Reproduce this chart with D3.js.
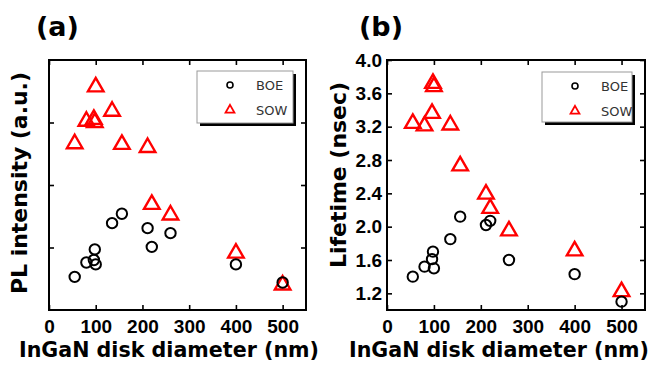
<!DOCTYPE html>
<html>
<head>
<meta charset="utf-8">
<script src="https://cdn.jsdelivr.net/npm/d3@7"></script>
<style>
  body { margin: 0; background: #fff; }
  svg { display: block; }
  .tick text { font-family: "Liberation Sans", Arial, sans-serif; font-weight: bold; font-size: 19px; fill: #000; }
  .tick line { stroke: #000; stroke-width: 1.6; }
  .domain { display: none; }
</style>
</head>
<body>
<svg id="chart" width="656" height="365"></svg>
<script>
// disk diameters (nm), shared by both panels
const diameters = [55, 80, 96, 98, 100, 135, 156, 211, 220, 260, 400, 500];

// (a) PL intensity, arbitrary units
const plBOE = [0.53, 0.76, 0.80, 0.97, 0.73, 1.39, 1.54, 1.31, 1.01, 1.23, 0.73, 0.44];
const plSOW = [2.66, 3.02, 3.05, 3.00, 3.57, 3.18, 2.65, 2.60, 1.69, 1.52, 0.91, 0.40];

// (b) lifetime, nsec
const lifeBOE = [1.40, 1.52, 1.61, 1.70, 1.50, 1.85, 2.12, 2.02, 2.07, 1.60, 1.43, 1.10];
const lifeSOW = [3.24, 3.21, 3.36, 3.72, 3.68, 3.22, 2.73, 2.39, 2.22, 1.95, 1.71, 1.22];

const xTicks = [0, 100, 200, 300, 400, 500];
const yTicksB = [1.2, 1.6, 2.0, 2.4, 2.8, 3.2, 3.6, 4.0];
const seriesNames = ["BOE", "SOW"];

const svg = d3.select("#chart");
const font = "DejaVu Sans, sans-serif";

function drawPanel(opt) {
  const g = svg.append("g");
  const x = d3.scaleLinear().domain([0, 550]).range([opt.left, opt.right]);
  const y = d3.scaleLinear().domain(opt.yDomain).range([opt.bottom, opt.top]);

  // axes, ticks point inward on all four sides
  g.append("g").attr("transform", `translate(0,${opt.bottom})`)
    .call(d3.axisBottom(x).tickValues(xTicks).tickSize(-5).tickPadding(10));
  g.append("g").attr("transform", `translate(0,${opt.top})`)
    .call(d3.axisTop(x).tickValues(xTicks).tickSize(-5).tickFormat(""));
  const yl = d3.axisLeft(y).tickValues(opt.yTicks).tickSize(-5).tickPadding(5);
  if (!opt.yLabels) yl.tickFormat("");
  else yl.tickFormat(d3.format(".1f"));
  g.append("g").attr("transform", `translate(${opt.left},0)`).call(yl);
  g.append("g").attr("transform", `translate(${opt.right},0)`)
    .call(d3.axisRight(y).tickValues(opt.yTicks).tickSize(-5).tickFormat(""));

  g.append("rect")
    .attr("x", opt.left).attr("y", opt.top)
    .attr("width", opt.right - opt.left).attr("height", opt.bottom - opt.top)
    .attr("fill", "none").attr("stroke", "#000").attr("stroke-width", 2);

  // data
  g.append("g").selectAll("path.sow").data(diameters)
    .join("path")
    .attr("transform", (d, i) => `translate(${x(d)},${y(opt.sow[i])})`)
    .attr("d", d3.symbol(d3.symbolTriangle, 105))
    .attr("fill", "none").attr("stroke", "#f00").attr("stroke-width", 2.4);
  g.append("g").selectAll("circle").data(diameters)
    .join("circle")
    .attr("cx", d => x(d)).attr("cy", (d, i) => y(opt.boe[i]))
    .attr("r", 5.2)
    .attr("fill", "none").attr("stroke", "#000").attr("stroke-width", 2);

  // legend with drop shadow
  const L = opt.legend;
  g.append("rect").attr("x", L.x + 3).attr("y", L.y + 3).attr("width", L.w).attr("height", L.h).attr("fill", "#000");
  g.append("rect").attr("x", L.x).attr("y", L.y).attr("width", L.w).attr("height", L.h)
    .attr("fill", "#fff").attr("stroke", "#999").attr("stroke-width", 1);
  g.append("circle").attr("cx", L.x + 33).attr("cy", L.y + 14).attr("r", 3)
    .attr("fill", "none").attr("stroke", "#000").attr("stroke-width", 1.6);
  g.append("path").attr("transform", `translate(${L.x + 33},${L.y + 39})`)
    .attr("d", d3.symbol(d3.symbolTriangle, 34))
    .attr("fill", "none").attr("stroke", "#f00").attr("stroke-width", 1.8);
  g.selectAll("text.leg").data(seriesNames).join("text")
    .attr("x", L.x + 59).attr("y", (d, i) => L.y + 19 + i * 25)
    .attr("font-family", font).attr("font-size", 13).attr("fill", "#333")
    .text(d => d);

  // titles
  g.append("text")
    .attr("x", opt.xTitleX).attr("y", 357)
    .attr("text-anchor", "middle")
    .attr("font-family", font).attr("font-weight", "bold").attr("font-size", 21)
    .attr("textLength", 300).attr("lengthAdjust", "spacingAndGlyphs")
    .text("InGaN disk diameter (nm)");
  g.append("text")
    .attr("transform", `translate(${opt.yTitle.x},${opt.yTitle.y}) rotate(-90)`)
    .attr("text-anchor", "middle")
    .attr("font-family", font).attr("font-weight", "bold").attr("font-size", 21)
    .attr("textLength", opt.yTitle.len).attr("lengthAdjust", "spacingAndGlyphs")
    .text(opt.yTitle.t);
  g.append("text")
    .attr("x", opt.tag.x).attr("y", 36)
    .attr("font-family", font).attr("font-weight", "bold").attr("font-size", 27)
    .text(opt.tag.t);
}

drawPanel({
  left: 49, right: 306, top: 60, bottom: 310,
  yDomain: [0, 4], yTicks: [1, 2, 3], yLabels: false,
  boe: plBOE, sow: plSOW,
  xTitleX: 169,
  yTitle: { t: "PL intensity (a.u.)", x: 27, y: 183, len: 222 },
  legend: { x: 197, y: 71, w: 96, h: 52 },
  tag: { x: 36, t: "(a)" }
});

drawPanel({
  left: 387, right: 645, top: 60, bottom: 310,
  yDomain: [1.0, 4.0], yTicks: yTicksB, yLabels: true,
  boe: lifeBOE, sow: lifeSOW,
  xTitleX: 499,
  yTitle: { t: "Lifetime (nsec)", x: 346, y: 175, len: 186 },
  legend: { x: 542, y: 72, w: 90, h: 50 },
  tag: { x: 359, t: "(b)" }
});
</script>
</body>
</html>
